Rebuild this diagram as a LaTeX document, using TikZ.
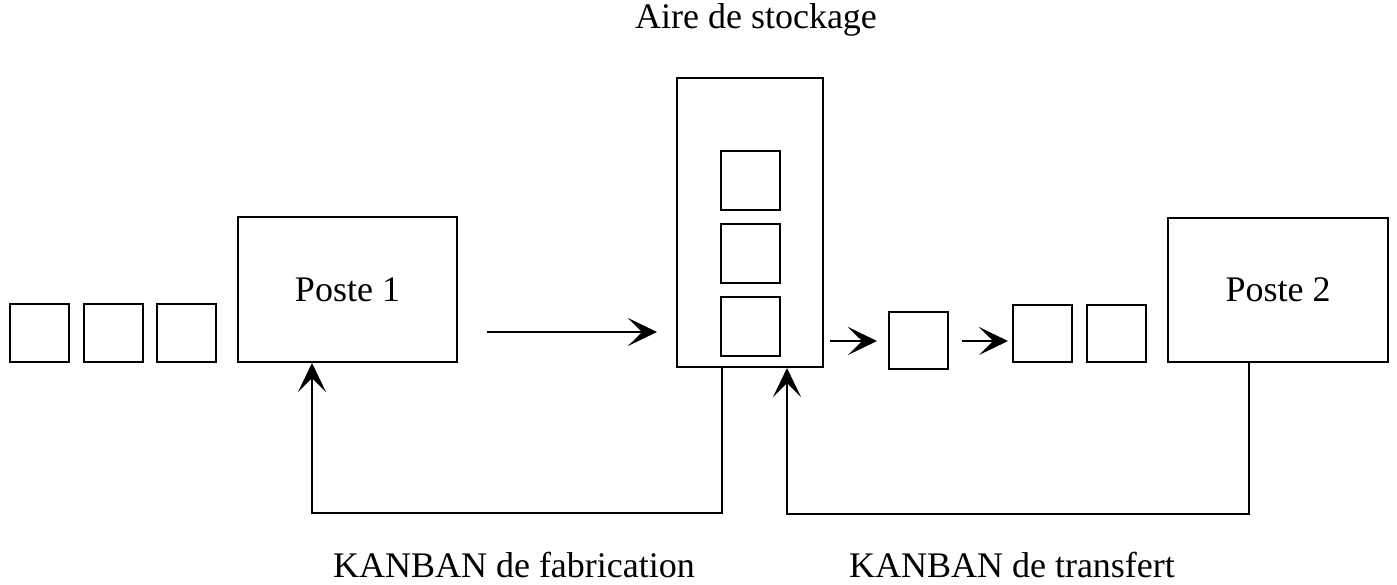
\documentclass[tikz,border=0pt]{standalone}
\usepackage{fontspec}
\setmainfont{Liberation Serif}
\usetikzlibrary{arrows.meta}
\begin{document}
\begin{tikzpicture}[x=1pt,y=-1pt,
  box/.style={draw, line width=2pt, inner sep=0pt},
  sq/.style={box, minimum width=59pt, minimum height=58pt},
  conn/.style={line width=1.6pt},
  arr/.style={conn, -{Stealth[length=29pt,width=28pt,inset=14pt]}},
  lbl/.style={font=\fontsize{36}{40}\selectfont, inner sep=0pt}
]
\useasboundingbox (0,0) rectangle (1397,584);
% input queue
\node[sq] (q1) at (39.5,333) {};
\node[sq] (q2) at (113,333) {};
\node[sq] (q3) at (186,333) {};
% Poste 1
\node[box, minimum width=219pt, minimum height=145pt, lbl] (p1) at (347.5,289.5) {Poste 1};
% storage
\node[box, minimum width=146pt, minimum height=289pt] (stor) at (750,222.5) {};
\node[sq, minimum height=59pt] (s1) at (750.5,180.5) {};
\node[sq, minimum height=59pt] (s2) at (750.5,253) {};
\node[sq, minimum height=59pt] (s3) at (750.5,326) {};
\node[lbl, anchor=base] (aire) at (756,28) {Aire de stockage};
% transfer queue
\node[sq, minimum height=57pt] (t1) at (918.5,340.5) {};
\node[sq, minimum height=57pt] (t2) at (1042.5,333.5) {};
\node[sq, minimum height=57pt] (t3) at (1116.5,333.5) {};
% Poste 2
\node[box, minimum width=220pt, minimum height=144pt, lbl] (p2) at (1278,290) {Poste 2};
% labels
\node[lbl, anchor=base] (kf) at (514,577) {KANBAN de fabrication};
\node[lbl, anchor=base] (kt) at (1012,577) {KANBAN de transfert};
% flow arrows
\coordinate (m1) at (487,332);
\coordinate (m2) at (657,332);
\draw[arr] (m1) -- (m2);
\coordinate (a1) at (830,341);
\coordinate (a2) at (877,341);
\draw[arr] (a1) -- (a2);
\coordinate (b1) at (962,341);
\coordinate (b2) at (1008,341);
\draw[arr] (b1) -- (b2);
% kanban loops
\coordinate (f1) at (722,513);
\coordinate (f2) at (312,513);
\draw[arr] (stor.south -| f1) -- (f1) -- (f2) -- (f2 |- p1.south);
\coordinate (r1) at (1249,514);
\coordinate (r2) at (787,514);
\draw[arr] (p2.south -| r1) -- (r1) -- (r2) -- (r2 |- stor.south);
\end{tikzpicture}
\end{document}
